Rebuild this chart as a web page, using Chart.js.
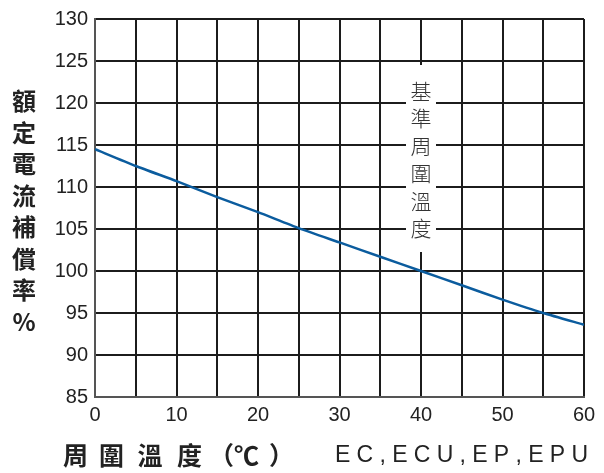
<!DOCTYPE html>
<html>
<head>
    <title>額定電流補償率</title>
    <script src="https://cdn.jsdelivr.net/npm/chart.js"></script>
    <style>
        body { margin: 0; background: #fff; }
        canvas { display: block; }
    </style>
</head>
<body>
    <canvas id="chart" width="604" height="473"></canvas>

    <script>
        // data
        const temps = [0, 5, 10, 15, 20, 25, 30, 35, 40, 45, 50, 55, 60];
        const rates = [114.5, 112.5, 110.7, 108.8, 107.0, 105.1, 103.4, 101.7, 100.0, 98.3, 96.6, 95.0, 93.6];
        const xTicks = [0, 10, 20, 30, 40, 50, 60];
        const yTitle = ['額', '定', '電', '流', '補', '償', '率', '%'];
        const xTitle = '周圍溫度';
        const refLabel = ['基', '準', '周', '圍', '溫', '度'];
        const refTemp = 40;
        const models = 'EC,ECU,EP,EPU';

        const points = temps.map((t, i) => ({ x: t, y: rates[i] }));
        const cjk = '"Noto Sans CJK TC", "Noto Sans CJK JP", sans-serif';

        const textPlugin = {
            id: 'texts',
            afterDraw(chart) {
                const ctx = chart.ctx;
                const xs = chart.scales.x;
                ctx.save();
                ctx.textBaseline = 'middle';
                ctx.textAlign = 'center';

                // y title, stacked
                ctx.fillStyle = '#222';
                ctx.font = 'bold 24px ' + cjk;
                yTitle.forEach((c, i) => ctx.fillText(c, 24, 101 + i * 31.5));

                // reference label over the 40 line
                const cx = xs.getPixelForValue(refTemp);
                ctx.fillStyle = '#fff';
                ctx.fillRect(cx - 15, 65, 30, 187);
                ctx.fillStyle = '#333';
                ctx.font = '300 21px ' + cjk;
                refLabel.forEach((c, i) => ctx.fillText(c, cx, 91 + i * 27.4));

                // x title
                ctx.fillStyle = '#222';
                ctx.font = 'bold 25px ' + cjk;
                const xPos = [75.5, 111.5, 150, 189.5];
                xTitle.split('').forEach((c, i) => ctx.fillText(c, xPos[i], 455));
                ctx.textAlign = 'right';
                ctx.fillText('（', 234, 455);
                ctx.textAlign = 'center';
                ctx.fillText('℃', 246.5, 455);
                ctx.textAlign = 'left';
                ctx.fillText('）', 269, 455);

                // model names, spread out
                ctx.font = '23px "Liberation Sans", Arial, sans-serif';
                ctx.fillStyle = '#222';
                const chars = models.split('');
                const w = chars.reduce((s, c) => s + ctx.measureText(c).width, 0);
                const gap = (253 - w) / (chars.length - 1);
                let x = 335;
                chars.forEach(c => {
                    ctx.fillText(c, x, 456);
                    x += ctx.measureText(c).width + gap;
                });
                ctx.restore();
            }
        };

        new Chart(document.getElementById('chart').getContext('2d'), {
            type: 'line',
            data: {
                datasets: [{
                    data: points,
                    borderColor: '#0b5c9e',
                    borderWidth: 2.5,
                    pointRadius: 0,
                    tension: 0.2,
                    fill: false
                }]
            },
            options: {
                responsive: false,
                animation: false,
                devicePixelRatio: 1,
                layout: { padding: { top: 18, right: 20, left: 0, bottom: 0 } },
                plugins: {
                    legend: { display: false },
                    tooltip: { enabled: false }
                },
                scales: {
                    x: {
                        type: 'linear',
                        min: 0,
                        max: 60,
                        afterFit(s) { s.height = 76; },
                        afterBuildTicks(s) {
                            s.ticks = [];
                            for (let v = 0; v <= 60; v += 5) s.ticks.push({ value: v });
                        },
                        ticks: {
                            autoSkip: false,
                            maxRotation: 0,
                            padding: 6,
                            color: '#222',
                            font: { family: '"Liberation Sans", Arial, sans-serif', size: 20 },
                            callback: v => xTicks.includes(v) ? String(v) : ''
                        },
                        grid: { color: '#1c1c1c', lineWidth: 2, drawTicks: false },
                        border: { color: '#555', width: 2 }
                    },
                    y: {
                        min: 85,
                        max: 130,
                        afterFit(s) { s.width = 95; },
                        ticks: {
                            stepSize: 5,
                            padding: 7,
                            color: '#222',
                            font: { family: '"Liberation Sans", Arial, sans-serif', size: 20 }
                        },
                        grid: { color: '#1c1c1c', lineWidth: 2, drawTicks: false },
                        border: { color: '#555', width: 2 }
                    }
                }
            },
            plugins: [textPlugin]
        });
    </script>
</body>
</html>
